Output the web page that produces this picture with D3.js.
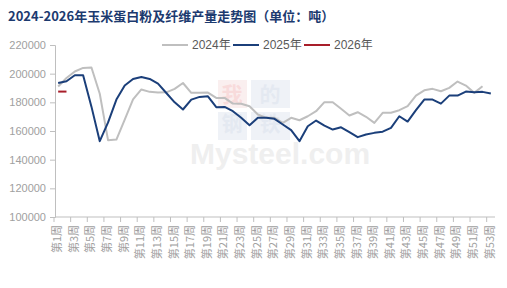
<!DOCTYPE html>
<html><head><meta charset="utf-8">
<script src="https://cdn.jsdelivr.net/npm/d3@7"></script>
<style>body{margin:0;background:#fff}svg{display:block}</style>
</head><body>
<svg id="c" width="507" height="288"></svg>
<script>
const weeks = d3.range(1, 54).map(i => `第${i}周`);
const tickWeeks = d3.range(1, 54, 2).map(i => `第${i}周`);
const yTicks = [100000, 120000, 140000, 160000, 180000, 200000, 220000];
const seriesNames = ["2024年", "2025年", "2026年"];
const seriesColors = ["#bfbfbf", "#1b3f7a", "#a81e2a"];
const v2024 = [191000,197000,201500,204000,204300,186000,153500,154000,168000,182000,
  189000,187300,186800,187000,189400,193500,186600,186600,186800,183100,
  183100,179100,179000,177300,171500,169200,169200,165700,169200,167500,
  170300,173800,180100,180100,175500,170800,173100,169900,165700,172700,
  172700,174500,177300,184700,188400,189400,187700,190100,194500,191700,
  186600,191200];
const v2025 = [193500,194700,198900,198900,177000,152900,166000,181900,191700,196300,
  197700,196300,193000,186500,180000,175000,181900,183800,184200,176600,
  176800,173800,169200,164000,169200,169200,168500,164500,160600,152900,
  163300,167300,163800,161000,162600,159200,155700,157600,158700,159500,
  162200,170300,166600,174500,181900,181900,179100,184700,184700,187500,
  187000,187300,186100];
const v2026 = [187500,187500];
const seriesValues = [v2024, v2025, v2026];

const svg = d3.select("#c");
const x = d3.scaleBand().domain(weeks).range([54, 495]).padding(0);
const y = d3.scaleLinear().domain([100000, 220000]).range([217, 45]);

// watermark (faint)
const wm = svg.append("g").attr("opacity", 0.45);
wm.append("rect").attr("x",218).attr("y",80).attr("width",29).attr("height",28).attr("fill","#f6dcdc");
wm.append("rect").attr("x",251).attr("y",80).attr("width",39).attr("height",28).attr("fill","#dde3ee");
wm.append("rect").attr("x",218).attr("y",112).attr("width",29).attr("height",28).attr("fill","#dde3ee");
wm.append("rect").attr("x",251).attr("y",112).attr("width",39).attr("height",28).attr("fill","#dde3ee");
[["我",232,"#f0b0b0"],["的",270,"#c5d0e2"]].forEach(d=>wm.append("text").attr("x",d[1]).attr("y",102).attr("text-anchor","middle").attr("font-family","Noto Sans CJK SC").attr("font-weight","bold").attr("font-size",21).attr("fill",d[2]).text(d[0]));
[["钢",232],["铁",270]].forEach(d=>wm.append("text").attr("x",d[1]).attr("y",131).attr("text-anchor","middle").attr("font-family","Noto Sans CJK SC").attr("font-weight","bold").attr("font-size",21).attr("fill","#c5d0e2").text(d[0]));
wm.append("text").attr("x",190).attr("y",164).attr("font-family","Arial, Liberation Sans").attr("font-weight","bold").attr("font-size",30).attr("fill","#dcdcdc").text("Mysteel.com");

// title
svg.append("text").attr("x", 8).attr("y", 21)
  .attr("font-family", "Noto Sans CJK SC").attr("font-weight", "bold")
  .attr("font-size", 13).attr("fill", "#1c3a6f")
  .text("2024-2026年玉米蛋白粉及纤维产量走势图（单位：吨）");

// y axis
const ya = svg.append("g").attr("transform", "translate(55,0)")
  .call(d3.axisLeft(y).tickValues(yTicks).tickSize(5).tickPadding(4).tickFormat(d3.format("d")));
ya.select(".domain").attr("stroke", "#bfbfbf");
ya.selectAll(".tick line").attr("stroke", "#bfbfbf");
ya.selectAll("text").attr("fill", "#a0a0a0").attr("font-size", 11).attr("font-family", "Liberation Sans, Arial");

// x axis
const xa = svg.append("g").attr("transform", "translate(0,217)");
xa.append("line").attr("x1", 55).attr("x2", x.range()[1]).attr("y1", 0).attr("y2", 0).attr("stroke", "#bfbfbf");
xa.selectAll("line.tk").data(d3.range(0, 54, 2)).join("line").attr("class","tk")
  .attr("x1", i => x.range()[0] + i * x.step()).attr("x2", i => x.range()[0] + i * x.step())
  .attr("y1", 0).attr("y2", 5).attr("stroke", "#bfbfbf");
xa.selectAll("text").data(tickWeeks).join("text")
  .attr("transform", d => `translate(${x(d) + x.bandwidth()/2 - 1},8) rotate(-90)`)
  .attr("text-anchor", "end").attr("dy", "0.35em")
  .attr("font-family", "Noto Sans CJK SC").attr("font-size", 11).attr("fill", "#a0a0a0")
  .text(d => d);

// lines
const line = d3.line().x((d, i) => x(weeks[i]) + x.bandwidth()/2).y(d => y(d));
seriesValues.forEach((vals, k) => {
  svg.append("path").datum(vals).attr("d", line).attr("fill", "none")
    .attr("stroke", seriesColors[k]).attr("stroke-width", 2).attr("stroke-linejoin", "round");
});

// legend
const lg = svg.append("g");
seriesNames.forEach((n, k) => {
  const lx = 162 + k * 71;
  lg.append("line").attr("x1", lx).attr("x2", lx + 26).attr("y1", 45).attr("y2", 45)
    .attr("stroke", seriesColors[k]).attr("stroke-width", 2);
  lg.append("text").attr("x", lx + 30).attr("y", 49).attr("font-family", "Liberation Sans, Noto Sans CJK SC")
    .attr("font-size", 12).attr("fill", "#595959").text(n);
});
</script>
</body></html>
